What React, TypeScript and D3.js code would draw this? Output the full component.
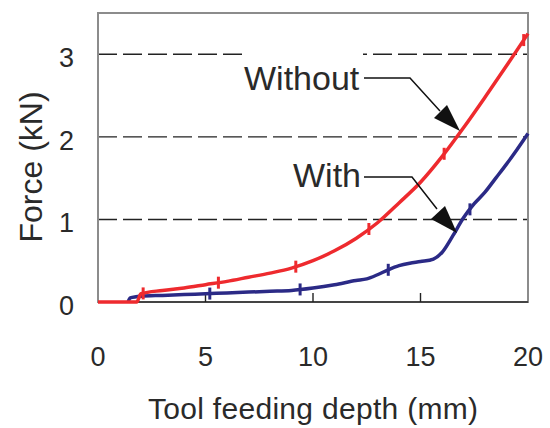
import React from "react";
import * as d3 from "d3";

const xTicks = [0, 5, 10, 15, 20];
const yTicks = [0, 1, 2, 3];

const withoutX = [0, 1.8, 2, 3, 4, 5, 6, 7, 8, 9, 10, 11, 12, 13, 14, 15, 16, 17, 18, 19, 20];
const withoutY = [0, 0, 0.1, 0.14, 0.17, 0.21, 0.25, 0.3, 0.35, 0.41, 0.5, 0.62, 0.77, 0.96, 1.2, 1.45, 1.76, 2.11, 2.48, 2.86, 3.25];

const withX = [1.4, 1.5, 2, 3, 4, 5, 6, 7, 8, 9, 10, 11, 12, 12.5, 13, 13.5, 14, 14.5, 15, 15.6, 16, 16.5, 17, 17.5, 18, 18.5, 19, 19.5, 20];
const withY = [0, 0.05, 0.07, 0.08, 0.09, 0.1, 0.11, 0.12, 0.13, 0.14, 0.17, 0.21, 0.26, 0.28, 0.33, 0.39, 0.44, 0.47, 0.49, 0.52, 0.6, 0.8, 1.02, 1.19, 1.33, 1.5, 1.67, 1.85, 2.04];

const withoutMarkers = [2.1, 5.6, 9.2, 12.6, 16.1, 19.8];
const withMarkers = [5.2, 9.4, 13.5, 17.3];

const W = 550, H = 428;
const left = 98, right = 528, top = 13, bottom = 302;
const FONT = "'Liberation Sans', Arial, Helvetica, sans-serif";
const RED = "#ee2a2e";
const BLUE = "#2b2a86";
const TXT = "#2a2a2a";

export default function App() {
  const x = d3.scaleLinear().domain([0, 20]).range([left, right]);
  const y = d3.scaleLinear().domain([0, 3.5]).range([bottom, top]);

  const line = d3.line<[number, number]>().x(d => x(d[0])).y(d => y(d[1])).curve(d3.curveMonotoneX);
  const redPts: [number, number][] = withoutX.map((v, i) => [v, withoutY[i]]);
  const bluePts: [number, number][] = withX.map((v, i) => [v, withY[i]]);

  const interp = (xs: number[], ys: number[], v: number) => {
    for (let i = 1; i < xs.length; i++) {
      if (v <= xs[i]) {
        const t = (v - xs[i - 1]) / (xs[i] - xs[i - 1]);
        return ys[i - 1] + t * (ys[i] - ys[i - 1]);
      }
    }
    return ys[ys.length - 1];
  };

  return (
    <svg width={W} height={H} style={{ position: "absolute", left: 0, top: 0, background: "#fff" }}>
      <rect x={0} y={0} width={W} height={H} fill="#fff" />
      {yTicks.filter(t => t > 0).map(t => (
        <line key={t} x1={left} x2={right} y1={y(t)} y2={y(t)} stroke="#222" strokeWidth={1.4} strokeDasharray="19,6" />
      ))}
      <rect x={left} y={top} width={right - left} height={bottom - top} fill="none" stroke="#8c8c8c" strokeWidth={2} />
      <line x1={left} x2={right} y1={bottom} y2={bottom} stroke="#444" strokeWidth={2} />
      {xTicks.filter(t => t > 0 && t < 20).map(t => (
        <line key={t} x1={x(t)} x2={x(t)} y1={bottom} y2={bottom - 9} stroke="#222" strokeWidth={1.4} />
      ))}
      <path d={line(bluePts) || ""} fill="none" stroke={BLUE} strokeWidth={3.5} strokeLinejoin="round" />
      <path d={line(redPts) || ""} fill="none" stroke={RED} strokeWidth={3.5} strokeLinejoin="round" />
      {withMarkers.map(m => (
        <line key={"b" + m} x1={x(m)} x2={x(m)} y1={y(interp(withX, withY, m)) - 6} y2={y(interp(withX, withY, m)) + 6} stroke={BLUE} strokeWidth={3} />
      ))}
      {withoutMarkers.map(m => (
        <line key={"r" + m} x1={x(m)} x2={x(m)} y1={y(interp(withoutX, withoutY, m)) - 6} y2={y(interp(withoutX, withoutY, m)) + 6} stroke={RED} strokeWidth={3} />
      ))}
      {yTicks.map(t => (
        <text key={t} x={74} y={y(t) + 13} textAnchor="end" fontFamily={FONT} fontSize={27} fill={TXT}>{t}</text>
      ))}
      {xTicks.map(t => (
        <text key={t} x={x(t)} y={366} textAnchor="middle" fontFamily={FONT} fontSize={27} fill={TXT}>{t}</text>
      ))}
      <text x={313} y={419} textAnchor="middle" fontFamily={FONT} fontSize={30} fill={TXT} textLength={330} lengthAdjust="spacing">Tool feeding depth (mm)</text>
      <text transform={`translate(42,167) rotate(-90)`} textAnchor="middle" fontFamily={FONT} fontSize={32} fill={TXT}>Force (kN)</text>
      <rect x={243} y={50} width={120} height={44} fill="#fff" />
      <text x={244} y={90} fontFamily={FONT} fontSize={34} fill={TXT}>Without</text>
      <text x={293} y={187} fontFamily={FONT} fontSize={34} fill={TXT}>With</text>
      <polyline points="364,78 410,78 440,111" fill="none" stroke="#111" strokeWidth={1.5} />
      <polygon points="460,131 434,118 447,105" fill="#111" />
      <polyline points="364,177 412,177 437,209" fill="none" stroke="#111" strokeWidth={1.5} />
      <polygon points="457,233 431,219 445,206" fill="#111" />
    </svg>
  );
}
